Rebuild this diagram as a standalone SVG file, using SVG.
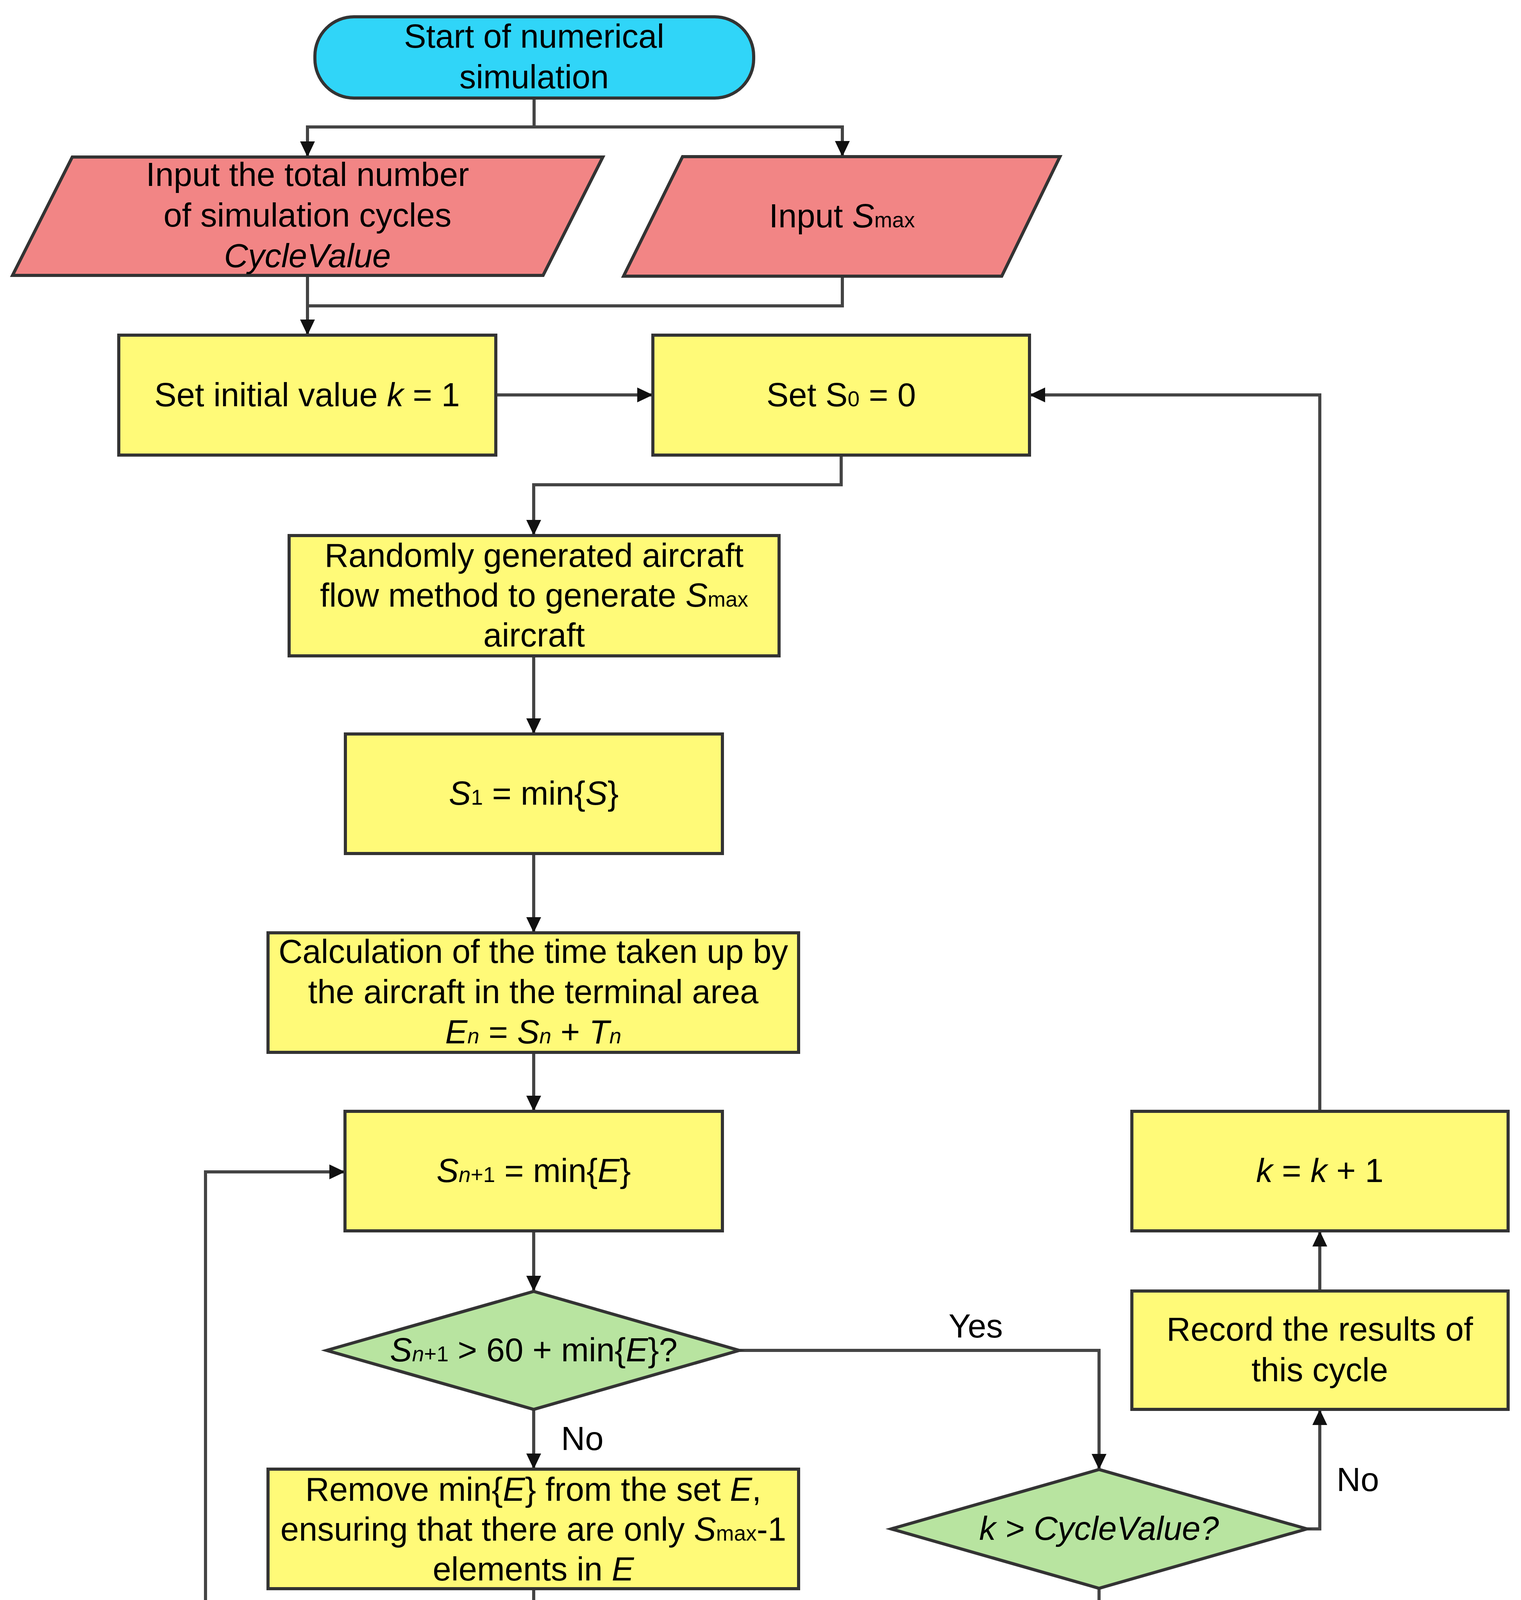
<svg xmlns="http://www.w3.org/2000/svg" width="3893" height="5018" viewBox="0 0 3893 5018">
<style>
.n{stroke:#333;stroke-width:8;stroke-linejoin:miter}
.term{fill:#30D5F8}
.io{fill:#F28585}
.proc{fill:#FFFA78}
.dec{fill:#B8E4A0}
.t{font-family:"Liberation Sans",Arial,sans-serif;font-size:85px;fill:#000;text-anchor:middle}
.l{font-family:"Liberation Sans",Arial,sans-serif;font-size:85px;fill:#000}
.i{font-style:italic}
.s{font-size:55px}
.c{fill:none;stroke:#444;stroke-width:8;marker-end:url(#ah)}
.w{fill:none;stroke:#444;stroke-width:8}
</style>
<defs>
<marker id="ah" markerUnits="userSpaceOnUse" markerWidth="42" markerHeight="40" refX="40" refY="19" orient="auto">
<path d="M0,0 L40,19 L0,38 z" fill="#111"/>
</marker>
</defs>
<rect width="3893" height="5018" fill="#fff"/>

<g id="connectors">
<path class="w" d="M1367,251 V325"/>
<path class="c" d="M1367,325 H787 V402"/>
<path class="c" d="M1367,325 H2156 V401"/>
<path class="c" d="M787,705 V858"/>
<path class="w" d="M2156,707 V783 H787"/>
<path class="c" d="M1269,1011 H1671"/>
<path class="c" d="M3378,2845 V1011 H2635"/>
<path class="c" d="M2153,1164 V1241 H1366 V1371"/>
<path class="c" d="M1366,1679 V1879"/>
<path class="c" d="M1366,2185 V2388"/>
<path class="c" d="M1366,2694 V2845"/>
<path class="c" d="M1366,3151 V3306"/>
<path class="c" d="M1892,3457 H2813 V3762"/>
<path class="c" d="M1366,3608 V3761"/>
<path class="c" d="M1366,4067 V4219"/>
<path class="c" d="M1366,4528 V4679"/>
<path class="c" d="M686,4831 H526 V3000 H883"/>
<path class="c" d="M3345,3914 H3378 V3608"/>
<path class="c" d="M3378,3305 V3151"/>
<path class="c" d="M2813,4066 V4217"/>
<path class="c" d="M2813,4526 V4727"/>
<text class="l" x="2428" y="3424">Yes</text>
<text class="l" x="1436" y="3712">No</text>
<text class="l" x="3421" y="3817">No</text>
<text class="l" x="2872" y="4163">Yes</text>
</g>

<g id="start">
<rect class="n term" x="806" y="43" width="1123" height="208" rx="100" ry="100"/>
<text class="t"><tspan x="1367" y="122">Start of numerical</tspan><tspan x="1367" y="226">simulation</tspan></text>
</g>

<g id="input-cycles">
<polygon class="n io" points="185,402 1543,402 1390,705 32,705"/>
<text class="t"><tspan x="787" y="476">Input the total number</tspan><tspan x="787" y="580">of simulation cycles</tspan><tspan x="787" y="684" class="i">CycleValue</tspan></text>
</g>

<g id="input-smax">
<polygon class="n io" points="1747,401 2713,401 2564,707 1596,707"/>
<text class="t" x="2155" y="582">Input <tspan class="i">S</tspan><tspan class="s">max</tspan></text>
</g>

<g id="set-k">
<rect class="n proc" x="304" y="858" width="965" height="307"/>
<text class="t" x="786" y="1040">Set initial value <tspan class="i">k</tspan> = 1</text>
</g>

<g id="set-s0">
<rect class="n proc" x="1671" y="858" width="964" height="307"/>
<text class="t" x="2153" y="1040">Set S<tspan class="s">0</tspan> = 0</text>
</g>

<g id="random-gen">
<rect class="n proc" x="740" y="1371" width="1254" height="308"/>
<text class="t"><tspan x="1367" y="1451">Randomly generated aircraft</tspan><tspan x="1367" y="1553">flow method to generate <tspan class="i">S</tspan><tspan class="s">max</tspan></tspan><tspan x="1367" y="1655">aircraft</tspan></text>
</g>

<g id="s1">
<rect class="n proc" x="884" y="1879" width="965" height="306"/>
<text class="t" x="1366" y="2060"><tspan class="i">S</tspan><tspan class="s">1</tspan> = min{<tspan class="i">S</tspan>}</text>
</g>

<g id="calc1">
<rect class="n proc" x="686" y="2388" width="1358" height="306"/>
<text class="t"><tspan x="1365" y="2465">Calculation of the time taken up by</tspan><tspan x="1365" y="2568">the aircraft in the terminal area</tspan><tspan x="1365" y="2671"><tspan class="i">E</tspan><tspan class="s i">n</tspan> = <tspan class="i">S</tspan><tspan class="s i">n</tspan> + <tspan class="i">T</tspan><tspan class="s i">n</tspan></tspan></text>
</g>

<g id="sn1">
<rect class="n proc" x="883" y="2845" width="966" height="306"/>
<text class="t" x="1366" y="3026"><tspan class="i">S</tspan><tspan class="s"><tspan class="i">n</tspan>+1</tspan> = min{<tspan class="i">E</tspan>}</text>
</g>

<g id="decision1">
<polygon class="n dec" points="836,3457 1366,3306 1892,3457 1366,3608"/>
<text class="t" x="1366" y="3485"><tspan class="i">S</tspan><tspan class="s"><tspan class="i">n</tspan>+1</tspan> &gt; 60 + min{<tspan class="i">E</tspan>}?</text>
</g>

<g id="remove">
<rect class="n proc" x="686" y="3761" width="1358" height="306"/>
<text class="t"><tspan x="1365" y="3842">Remove min{<tspan class="i">E</tspan>} from the set <tspan class="i">E</tspan>,</tspan><tspan x="1365" y="3944">ensuring that there are only <tspan class="i">S</tspan><tspan class="s">max</tspan>-1</tspan><tspan x="1365" y="4046">elements in <tspan class="i">E</tspan></tspan></text>
</g>

<g id="generate">
<rect class="n proc" x="686" y="4219" width="1358" height="309"/>
<text class="t"><tspan x="1365" y="4300">Generate 1 new aircraft with</tspan><tspan x="1365" y="4402">attributes using the randomly</tspan><tspan x="1365" y="4504">generated aircraft flow method</tspan></text>
</g>

<g id="calc2">
<rect class="n proc" x="686" y="4679" width="1358" height="305"/>
<text class="t"><tspan x="1365" y="4756">Calculation of the time taken up by</tspan><tspan x="1365" y="4859">the aircraft in the terminal area</tspan><tspan x="1365" y="4962"><tspan class="i">E</tspan><tspan class="s i">n</tspan> = <tspan class="i">S</tspan><tspan class="s i">n</tspan> + <tspan class="i">T</tspan><tspan class="s i">n</tspan></tspan></text>
</g>

<g id="k-inc">
<rect class="n proc" x="2897" y="2845" width="963" height="306"/>
<text class="t" x="3378" y="3026"><tspan class="i">k</tspan> = <tspan class="i">k</tspan> + 1</text>
</g>

<g id="record">
<rect class="n proc" x="2897" y="3305" width="963" height="303"/>
<text class="t"><tspan x="3378" y="3432">Record the results of</tspan><tspan x="3378" y="3536">this cycle</tspan></text>
</g>

<g id="decision2">
<polygon class="n dec" points="2281,3914 2813,3762 3345,3914 2813,4066"/>
<text class="t i" x="2813" y="3942">k &gt; CycleValue?</text>
</g>

<g id="mean">
<polygon class="n io" points="2354,4217 3422,4217 3270,4526 2203,4526"/>
<text class="t"><tspan x="2812" y="4349">Arithmetic mean</tspan><tspan x="2812" y="4453">of all results</tspan></text>
</g>

<g id="end">
<rect class="n term" x="2381" y="4727" width="865" height="207" rx="95" ry="100"/>
<text class="t" x="2813" y="4859">End of the simulation</text>
</g>
</svg>
